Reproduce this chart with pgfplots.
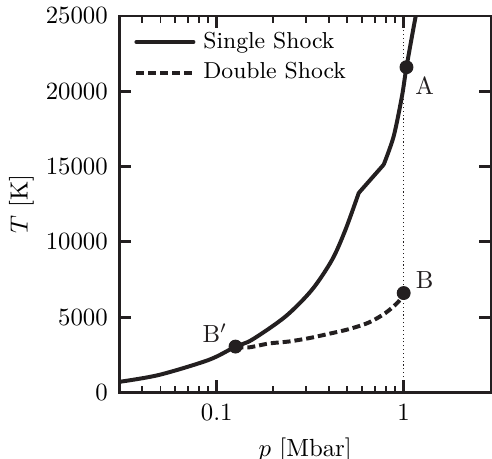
\documentclass[border=0pt]{standalone}
\usepackage{pgfplots}
\pgfplotsset{compat=1.18}
\definecolor{ink}{RGB}{35,31,32}
\begin{document}
\begin{tikzpicture}
\begin{axis}[
  scale only axis,
  width=150.2pt, height=151.8pt,
  xmode=log,
  xmin=0.03, xmax=2.95,
  ymin=0, ymax=25000,
  log ticks with fixed point,
  ytick={0,5000,10000,15000,20000,25000},
  scaled y ticks=false,
  /pgf/number format/1000 sep={},
  tick align=inside,
  tick pos=both,
  major tick length=5pt, minor tick length=2.7pt,
  axis line style={line width=1.2pt, ink},
  major tick style={line width=1.2pt, ink},
  minor tick style={line width=0.8pt, ink},
  xticklabel style={yshift=-1.5pt},
  yticklabel style={xshift=-1pt},
  xlabel={$p$ [Mbar]},
  ylabel={$T$ [K]},
  xlabel style={at={(axis description cs:0.5,-0.097)}, anchor=north},
  ylabel style={at={(axis description cs:-0.262,0.5)}, anchor=center},
  legend style={at={(axis description cs:0.02,0.985)}, anchor=north west, draw=none, fill=none, row sep=0.3pt,
    font=\fontsize{9.3}{11.5}\selectfont, nodes={inner xsep=3.2pt}},
  legend cell align=left,
  legend image code/.code={\draw[#1] (0pt,0pt) -- (23pt,0pt);},
  clip=true,
]
\addplot[ink, line width=1.6pt, smooth, line cap=round] coordinates {
(0.03,700) (0.049,1160) (0.0906,2160) (0.126,3045) (0.154,3490) (0.233,5040)
(0.323,6815) (0.414,8810) (0.488,10800) (0.575,13250)
};
\addlegendentry{Single Shock}
\addplot[ink, line width=1.6pt, smooth, dash pattern=on 3.2pt off 1.6pt] coordinates {
(0.126,3045) (0.148,2990) (0.19,3250) (0.242,3380) (0.31,3600) (0.397,3890)
(0.508,4200) (0.65,4640) (0.798,5270) (0.94,6040) (1.0,6600)
};
\addlegendentry{Double Shock}
\addplot[ink, line width=1.6pt, line cap=round, forget plot] coordinates {
(0.575,13250) (0.782,15130)
};
\addplot[ink, line width=1.6pt, smooth, line cap=round, forget plot] coordinates {
(0.782,15130) (0.884,17010) (0.979,19670) (1.035,21600) (1.155,24880) (1.25,27000)
};
\addplot[ink, line width=0.45pt, dash pattern=on 0.45pt off 1.1pt, forget plot] coordinates {(1,0) (1,25000)};
\addplot[ink, only marks, mark=*, mark size=2.6pt, forget plot] coordinates {(1.035,21600) (0.126,3045) (1.0,6600)};
\node[ink] at (axis cs:1.295,20380) {A};
\node[ink] at (axis cs:1.295,7450) {B};
\node[ink] at (axis cs:0.0976,3956) {B$'$};
\end{axis}
\pgfresetboundingbox
\path ([xshift=-48pt,yshift=-26.8pt]current axis.south west) rectangle ([xshift=0.2pt,yshift=6.45pt]current axis.north east);
\end{tikzpicture}
\end{document}
